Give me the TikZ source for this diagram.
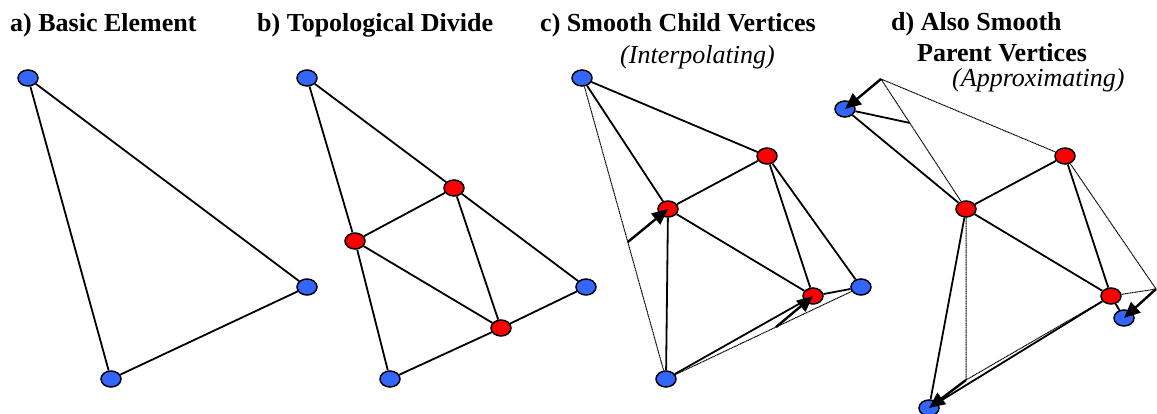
\documentclass[tikz,border=0pt]{standalone}
\usepackage{fontspec}
\setmainfont{Liberation Serif}[BoldFont={Liberation Serif Bold},ItalicFont={Liberation Serif Italic}]
\usetikzlibrary{arrows.meta,shapes.geometric,calc}
\definecolor{vblue}{RGB}{51,102,255}
\definecolor{vred}{RGB}{255,0,0}
\begin{document}
\begin{tikzpicture}[x=1pt,y=-1pt,
  vtx/.style={ellipse,draw=black,line width=1.5pt,minimum width=20pt,minimum height=16pt,inner sep=0pt},
  parent/.style={vtx,fill=vblue},
  child/.style={vtx,fill=vred},
  edge/.style={line width=1.8pt},
  old/.style={line width=1pt,dash pattern=on 1.2pt off 0.5pt},
  move/.style={line width=2.4pt,-{Triangle[length=16pt,width=14pt]}},
  title/.style={anchor=base west,inner sep=0pt,font=\fontsize{26}{30}\selectfont\bfseries},
  sub/.style={anchor=base west,inner sep=0pt,font=\fontsize{26}{30}\selectfont\itshape}]
\useasboundingbox (0,0) rectangle (1157,414);
\clip (0,0) rectangle (1157,414);

% titles
\node[title] (ta) at (10,32) {a) Basic Element};
\node[title] (tb) at (257,32) {b) Topological Divide};
\node[title] (tc) at (540,32) {c) Smooth Child Vertices};
\node[sub]   (tc2) at (620,64) {(Interpolating)};
\node[title] (td) at (891,31) {d) Also Smooth};
\node[title] (td2) at (917,62) {Parent Vertices};
\node[sub]   (td3) at (952,87) {(Approximating)};

% ---------- a) ----------
\node[parent] (a1) at (28,78) {};
\node[parent] (a2) at (307,287) {};
\node[parent] (a3) at (111,379) {};
\draw[edge] (a1) -- (a2) (a1) -- (a3) (a3) -- (a2);

% ---------- b) ----------
\node[parent] (b1) at (307,78) {};
\node[parent] (b2) at (586,287) {};
\node[parent] (b3) at (390,379) {};
\node[child] (b12) at (454,188) {};
\node[child] (b13) at (355,241) {};
\node[child] (b23) at (501,328) {};
\draw[edge] (b1) -- (b12) (b12) -- (b2) (b1) -- (b13) (b13) -- (b3)
  (b3) -- (b23) (b23) -- (b2) (b13) -- (b12) (b12) -- (b23) (b13) -- (b23);

% ---------- c) ----------
\node[parent] (c1) at (582,78) {};
\node[parent] (c2) at (861,287) {};
\node[parent] (c3) at (666,379) {};
\node[child] (c12) at (767,156) {};
\node[child] (c13) at (668,209) {};
\node[child] (c23) at (813,296) {};
\draw[old] (c1) -- (c3) (c3) -- (c2);
\draw[edge] (c1) -- (c12) (c1) -- (c13) (c13) -- (c12) (c13) -- (c23)
  (c13) -- (c3) (c12) -- (c23) (c12) -- (c2) (c23) -- (c2) (c3) -- (c23);
\coordinate (pc13) at ($(c1.center)!0.545!(c3.center)$);
\coordinate (pc23) at ($(c3.center)!0.564!(c2.center)$);
\draw[move] (pc13) -- (c13.center);
\draw[move] (pc23) -- (c23.center);

% ---------- d) ----------
\coordinate (o1) at (881,79);
\coordinate (o2) at (1156,289);
\coordinate (o3) at (966,380);
\node[parent] (d1) at (845,109) {};
\node[parent] (d2) at (1124,318) {};
\node[parent] (d3) at (929,408) {};
\node[child] (d12) at (1065,156) {};
\node[child] (d13) at (966,209) {};
\node[child] (d23) at (1111,296) {};
\coordinate (q1) at ($(o1)!0.338!(d13.center)$);
\draw[old] (o1) -- (d12) (o1) -- (d13) (d12) -- (o2) (d23) -- (o2)
  (d13) -- (o3) (d23) -- (o3);
\draw[edge] (d1) -- (q1) (d1) -- (d13) (d13) -- (d12) (d13) -- (d23)
  (d12) -- (d23) (d13) -- (d3) (d23) -- (d3) (d23) -- (d2);
\draw[move] (o1) -- (d1.center);
\draw[move] (o2) -- (d2.center);
\draw[move] (o3) -- (d3.center);
\end{tikzpicture}
\end{document}
